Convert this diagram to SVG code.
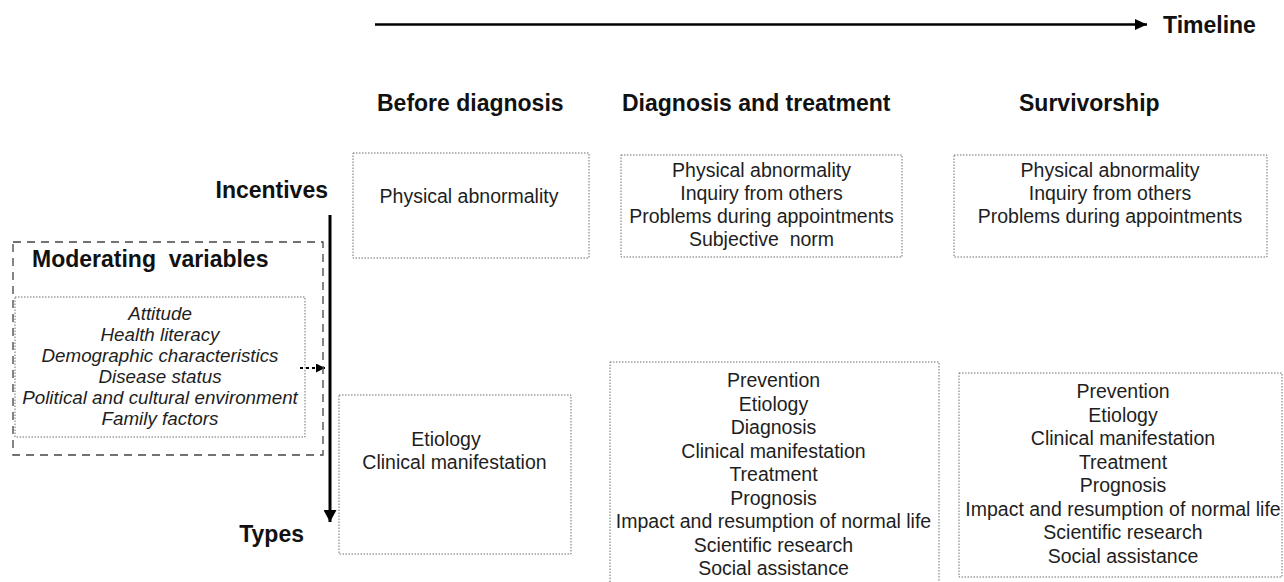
<svg xmlns="http://www.w3.org/2000/svg" width="1284" height="582" viewBox="0 0 1284 582">
<style>
  .bold{font-family:"Liberation Sans",Arial,sans-serif;font-weight:bold;font-size:23px;fill:#111}
  .body{font-family:"Liberation Sans",Arial,sans-serif;font-size:19.5px;fill:#1e1e1e;text-anchor:middle}
  .ital{font-family:"Liberation Sans",Arial,sans-serif;font-size:18.8px;font-style:italic;fill:#1e1e1e;text-anchor:middle}
  .dotbox{fill:none;stroke:#6e6e6e;stroke-width:1;stroke-dasharray:1.5 1.5}
  .dashbox{fill:none;stroke:#444;stroke-width:1.3;stroke-dasharray:8 6}
  .arrow{stroke:#000;fill:none}
</style>
<defs>
  <marker id="headH" viewBox="0 0 12 11" refX="12" refY="5.5" markerWidth="12" markerHeight="11" markerUnits="userSpaceOnUse" orient="auto">
    <path d="M0,0 L12,5.5 L0,11 Z" fill="#000"/>
  </marker>
  <marker id="headV" viewBox="0 0 12 13" refX="12" refY="6.5" markerWidth="12" markerHeight="13" markerUnits="userSpaceOnUse" orient="auto">
    <path d="M0,0 L12,6.5 L0,13 Z" fill="#000"/>
  </marker>
  <marker id="headS" viewBox="0 0 9 9" refX="9" refY="4.5" markerWidth="9" markerHeight="9" markerUnits="userSpaceOnUse" orient="auto">
    <path d="M0,0 L9,4.5 L0,9 Z" fill="#000"/>
  </marker>
</defs>

<g id="connectors">
  <line class="arrow" x1="375" y1="24.5" x2="1147" y2="24.5" stroke-width="2.6" marker-end="url(#headH)"/>
  <line class="arrow" x1="330" y1="215" x2="330" y2="522" stroke-width="3" marker-end="url(#headV)"/>
  <line class="arrow" x1="300" y1="368" x2="325" y2="368" stroke-width="1.8" stroke-dasharray="3 3" marker-end="url(#headS)"/>
</g>

<g id="timeline-label">
  <text class="bold" x="1163" y="33">Timeline</text>
</g>

<g id="headings">
  <text class="bold" x="377" y="111">Before diagnosis</text>
  <text class="bold" x="622" y="111">Diagnosis and treatment</text>
  <text class="bold" x="1019" y="111">Survivorship</text>
</g>

<g id="incentives-label">
  <text class="bold" x="328" y="198" text-anchor="end">Incentives</text>
</g>
<g id="types-label">
  <text class="bold" x="304" y="542" text-anchor="end">Types</text>
</g>

<g id="moderating-variables">
  <rect class="dashbox" x="13" y="242" width="310" height="213"/>
  <text class="bold" x="32" y="267" style="white-space:pre">Moderating  variables</text>
  <rect class="dotbox" x="15" y="297" width="290" height="140"/>
  <text class="ital" x="160" y="320">Attitude</text>
  <text class="ital" x="160" y="341">Health literacy</text>
  <text class="ital" x="160" y="362">Demographic characteristics</text>
  <text class="ital" x="160" y="383">Disease status</text>
  <text class="ital" x="160" y="404">Political and cultural environment</text>
  <text class="ital" x="160" y="425">Family factors</text>
</g>

<g id="before-incentives">
  <rect class="dotbox" x="353" y="153" width="236" height="105"/>
  <text class="body" x="469" y="203">Physical abnormality</text>
</g>

<g id="diagnosis-incentives">
  <rect class="dotbox" x="621" y="155" width="281" height="102"/>
  <text class="body" x="761.5" y="177">Physical abnormality</text>
  <text class="body" x="761.5" y="200">Inquiry from others</text>
  <text class="body" x="761.5" y="223">Problems during appointments</text>
  <text class="body" x="761.5" y="246" style="white-space:pre">Subjective  norm</text>
</g>

<g id="survivorship-incentives">
  <rect class="dotbox" x="954" y="155" width="313" height="102"/>
  <text class="body" x="1110" y="177">Physical abnormality</text>
  <text class="body" x="1110" y="200">Inquiry from others</text>
  <text class="body" x="1110" y="223">Problems during appointments</text>
</g>

<g id="before-types">
  <rect class="dotbox" x="339" y="395" width="232" height="159"/>
  <text class="body" x="446" y="446">Etiology</text>
  <text class="body" x="454.5" y="469">Clinical manifestation</text>
</g>

<g id="diagnosis-types">
  <rect class="dotbox" x="610" y="362" width="329" height="240"/>
  <text class="body" x="773.5" y="387">Prevention</text>
  <text class="body" x="773.5" y="410.5">Etiology</text>
  <text class="body" x="773.5" y="434">Diagnosis</text>
  <text class="body" x="773.5" y="457.5">Clinical manifestation</text>
  <text class="body" x="773.5" y="481">Treatment</text>
  <text class="body" x="773.5" y="504.5">Prognosis</text>
  <text class="body" x="773.5" y="528">Impact and resumption of normal life</text>
  <text class="body" x="773.5" y="551.5">Scientific research</text>
  <text class="body" x="773.5" y="575">Social assistance</text>
</g>

<g id="survivorship-types">
  <rect class="dotbox" x="959" y="373" width="323" height="204"/>
  <text class="body" x="1123" y="398">Prevention</text>
  <text class="body" x="1123" y="421.5">Etiology</text>
  <text class="body" x="1123" y="445">Clinical manifestation</text>
  <text class="body" x="1123" y="468.5">Treatment</text>
  <text class="body" x="1123" y="492">Prognosis</text>
  <text class="body" x="1123" y="515.5">Impact and resumption of normal life</text>
  <text class="body" x="1123" y="539">Scientific research</text>
  <text class="body" x="1123" y="562.5">Social assistance</text>
</g>
</svg>
